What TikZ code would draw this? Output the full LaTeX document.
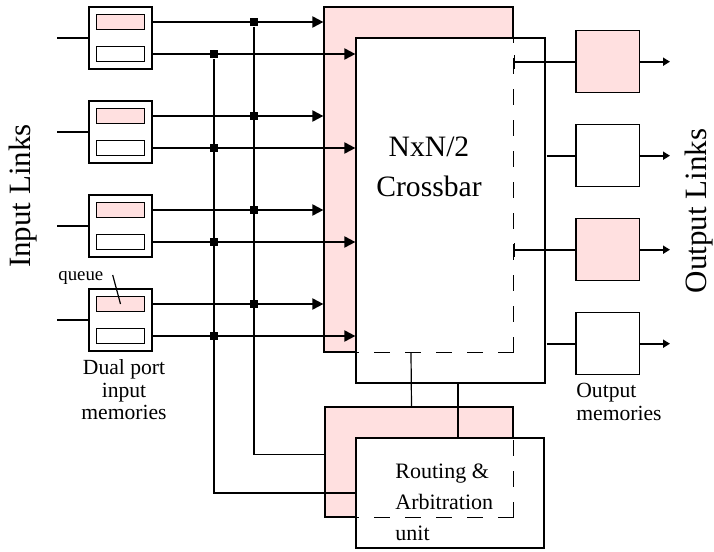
\documentclass[tikz,border=0pt]{standalone}
\usepackage{fontspec}
\setmainfont{Liberation Serif}
\usetikzlibrary{arrows.meta,positioning}
\definecolor{qpink}{RGB}{255,224,224}
\tikzset{
  membox/.style={draw,line width=0.6pt,minimum width=31.5pt,minimum height=31pt,inner sep=0pt,fill=white},
  queuebox/.style={draw,line width=0.6pt,minimum width=23.8pt,minimum height=7.8pt,inner sep=0pt},
  bigbox/.style={draw,line width=0.6pt,minimum width=94.5pt,minimum height=172.5pt,inner sep=0pt},
  arbbox/.style={draw,line width=0.6pt,minimum width=94pt,minimum height=55pt,inner sep=0pt},
  outbox/.style={draw,line width=0.6pt,minimum width=31.7pt,minimum height=31pt,inner sep=0pt},
  joint/.style={fill=black,minimum size=4.4pt,inner sep=0pt},
  link/.style={line width=1pt,-{Triangle[length=5.5pt,width=5.5pt]}},
  outlink/.style={line width=1pt,-{Triangle[length=3.5pt,width=4pt]}},
  ctrl/.style={line width=0.6pt},
  hidden/.style={line width=0.6pt,dash pattern=on 8pt off 7.5pt},
  lbl/.style={inner sep=0pt}
}
\begin{document}
\begin{tikzpicture}[x=0.5pt,y=-0.5pt]
    \useasboundingbox (0,0) rectangle (714,552);
    % crossbar, two planes
    \node[bigbox,fill=qpink] (xbarP) at (418.5,179.5) {};
    \node[bigbox,fill=white] (xbarF) at (450.5,210.5) {};
    \draw[hidden] (xbarP.south east) -- (xbarF.west |- xbarP.south);
    \draw[hidden] (xbarP.south east) -- (xbarP.east |- xbarF.north);
    % routing & arbitration unit, two planes
    \node[arbbox,fill=qpink] (arbP) at (419,462) {};
    \draw[ctrl] ([xshift=-3.75pt]xbarP.south) -- ([xshift=-3.75pt]arbP.north);
    \node[arbbox,fill=white] (arbF) at (450,493) {};
    \draw[ctrl] ([xshift=3.75pt]xbarF.south) -- ([xshift=4pt]arbF.north);
    \draw[hidden] (arbP.south east) -- (arbF.west |- arbP.south);
    \draw[hidden] (arbP.south east) -- (arbP.east |- arbF.north);
    % input memories
    \foreach \i in {1,...,4}{
        \pgfmathsetmacro\y{38+94*(\i-1)}
        \node[membox] (in\i) at (120.5,\y) {};
        \node[queuebox,fill=qpink] (qp\i) at (120.5,\y-16) {};
        \node[queuebox,fill=white] (qw\i) at (120.5,\y+16) {};
        \coordinate (src\i) at (57,\y);
        \draw[line width=1pt] (src\i) -- (in\i.west);
        \node[joint] (jp\i) at (254,\y-16) {};
        \node[joint] (jw\i) at (214,\y+16) {};
        \draw[link] (in\i.east |- qp\i) -- (xbarP.west |- qp\i);
        \draw[link] (in\i.east |- qw\i) -- (xbarF.west |- qw\i);
    }
    \draw[ctrl] (jp1) |- ([yshift=3.75pt]arbP.west);
    \draw[ctrl] (jw1) |- (arbF.west);
    % output memories
    \foreach \j/\src/\col/\tick in {1/xbarP/qpink/7pt,2/xbarF/white/0pt,3/xbarP/qpink/7pt,4/xbarF/white/0pt}{
        \pgfmathsetmacro\y{61.7+94*(\j-1)}
        \node[outbox,fill=\col] (out\j) at (607.7,\y) {};
        \coordinate (dst\j) at (670,\y);
        \draw[line width=1pt,{Bar[width=\tick,line width=0.6pt]}-] (\src.east |- out\j) -- (out\j.west);
        \draw[outlink] (out\j.east) -- (dst\j);
    }
    % labels
    \node[lbl,font=\fontsize{14.8}{20}\selectfont,align=center,anchor=north] (xbarLbl) at (429,136) {NxN/2\\Crossbar};
    \node[lbl,font=\fontsize{11}{15.6}\selectfont,align=left,anchor=north west] (arbLbl) at (395,463) {Routing \&\\Arbitration\\unit};
    \node[lbl,font=\fontsize{10.8}{11.4}\selectfont,align=center,anchor=north] (dualLbl) at (124,359) {Dual port\\input\\memories};
    \node[lbl,font=\fontsize{10.8}{11.4}\selectfont,align=left,anchor=north west] (outmemLbl) at (576,383) {Output\\memories};
    \node[lbl,font=\fontsize{9.4}{11}\selectfont,anchor=base] (qLbl) at (80.8,280.7) {queue};
    \coordinate (qtip) at (112.7,275);
    \draw[ctrl] (qtip) -- (qp4.center);
    \node[lbl,font=\fontsize{15.5}{18}\selectfont,rotate=90] (inLbl) at (23,196) {Input Links};
    \node[lbl,font=\fontsize{15.5}{18}\selectfont,rotate=90] (outLbl) at (699,211) {Output Links};
\end{tikzpicture}
\end{document}
